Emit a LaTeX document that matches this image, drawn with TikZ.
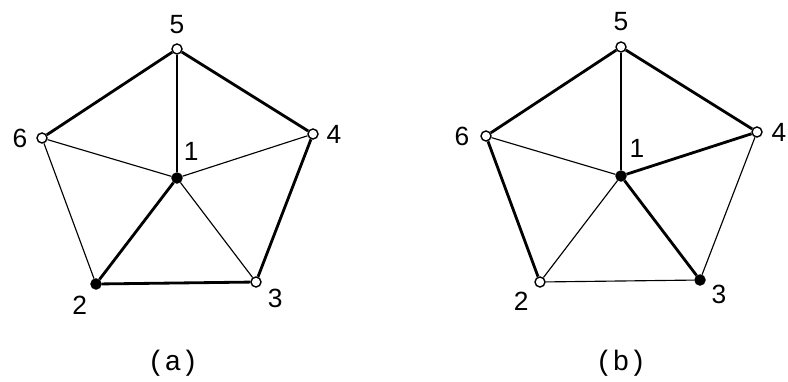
\documentclass[tikz,border=0pt]{standalone}
\usepackage{fontspec}
\newfontfamily\labfont{Liberation Sans}
\newfontfamily\capfont{Liberation Mono}
\usetikzlibrary{calc}
\tikzset{
  vertex/.style={circle, draw, line width=0.8pt, inner sep=0pt, minimum size=2mm},
  thinedge/.style={line width=0.65pt},
  thickedge/.style={line width=1.6pt},
  vlabel/.style={font=\labfont\fontsize{15}{17}\selectfont, inner sep=0pt},
  caption/.style={font=\capfont\fontsize{16}{19}\selectfont, inner sep=0pt},
}

\begin{document}
\begin{tikzpicture}[x=0.2mm, y=0.2mm]
\useasboundingbox (0,0) rectangle (788,381);
% --- knobs ---
\def\bshift{444}   % horizontal offset of graph (b)

% --- graph (a) ---
\begin{scope}
  \foreach \i/\x/\y/\f in {5/177/332/white, 6/42/243/white, 4/313/247/white,
                            1/177/203/black, 2/96/97/black, 3/256/99/white}{
    \node[vertex, fill=\f] (a\i) at (\x,\y) {};
  }
  \foreach \i/\ang/\d in {5/90/24, 6/180/22, 4/0/21, 1/62/30, 2/233/27, 3/-40/25}{
    \node[vlabel] (la\i) at ($(a\i)+(\ang:\d)$) {\i};
  }
  \foreach \u/\v in {5/1, 6/1, 4/1, 6/2, 1/3}{
    \draw[thinedge] (a\u) -- (a\v);
  }
  \foreach \u/\v in {5/6, 5/4, 4/3, 2/3, 1/2}{
    \draw[thickedge] (a\u) -- (a\v);
  }
\end{scope}

% --- graph (b) ---
\begin{scope}[shift={(\bshift,2)}]
  \foreach \i/\x/\y/\f in {5/177/332/white, 6/42/243/white, 4/313/247/white,
                            1/177/203/black, 2/96/97/white, 3/256/99/black}{
    \node[vertex, fill=\f] (b\i) at (\x,\y) {};
  }
  \foreach \i/\ang/\d in {5/90/25, 6/180/24, 4/0/22, 1/60/32, 2/226/27, 3/-38/24}{
    \node[vlabel] (lb\i) at ($(b\i)+(\ang:\d)$) {\i};
  }
  \foreach \u/\v in {5/1, 6/1, 1/2, 2/3, 3/4}{
    \draw[thinedge] (b\u) -- (b\v);
  }
  \foreach \u/\v in {5/6, 5/4, 6/2, 1/4, 1/3}{
    \draw[thickedge] (b\u) -- (b\v);
  }
\end{scope}

% Captions at bottom
\node[caption] (capa) at (173,18) {(a)};
\node[caption] (capb) at (621,18) {(b)};

\end{tikzpicture}
\end{document}
